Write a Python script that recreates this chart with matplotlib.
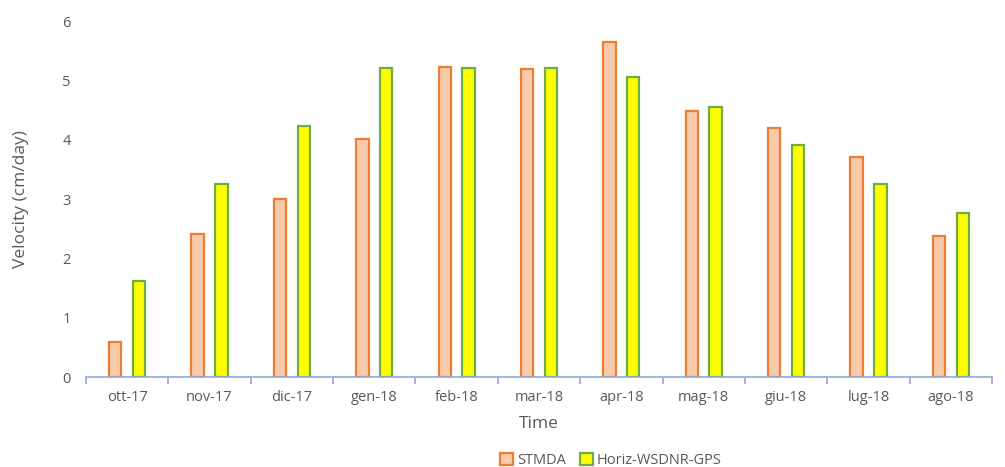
import numpy as np
import matplotlib.pyplot as plt

months = ['ott-17', 'nov-17', 'dic-17', 'gen-18', 'feb-18', 'mar-18',
          'apr-18', 'mag-18', 'giu-18', 'lug-18', 'ago-18']
stmda = [0.60, 2.41, 3.00, 4.01, 5.22, 5.20, 5.65, 4.49, 4.20, 3.71, 2.38]
gps = [1.62, 3.26, 4.23, 5.21, 5.21, 5.21, 5.05, 4.56, 3.91, 3.26, 2.77]

plt.rcParams['font.family'] = ['Open Sans', 'DejaVu Sans']
grey = '#595959'

fig = plt.figure(figsize=(10.05, 4.67), dpi=100)
ax = fig.add_axes([0.0856, 0.192, 0.9014, 0.763])

x = np.arange(len(months))
w = 0.15
ax.bar(x - 0.145, stmda, w, color='#F8CBAD', edgecolor='#ED7D31',
       linewidth=1.6, label='STMDA')
ax.bar(x + 0.145, gps, w, color='#FFFF00', edgecolor='#70AD47',
       linewidth=1.6, label='Horiz-WSDNR-GPS')

ax.set_xlim(-0.5, len(months) - 0.5)
ax.set_ylim(0, 6)
ax.set_yticks(range(7))
ax.set_xticks(x)
ax.set_xticklabels(months)
ax.set_xticks(np.arange(-0.5, len(months), 1.0), minor=True)

for s in ['top', 'right', 'left']:
    ax.spines[s].set_visible(False)
ax.spines['bottom'].set_color('#8EA9DB')
ax.spines['bottom'].set_linewidth(1.2)

ax.tick_params(axis='y', length=0, labelsize=10.5, colors=grey, pad=11)
ax.tick_params(axis='x', which='major', length=0, labelsize=10.5,
               colors=grey, pad=9)
ax.tick_params(axis='x', which='minor', length=5, color='#8EA9DB', width=1.2)

ax.set_xlabel('Time', fontsize=12.5, color=grey, labelpad=8)
ax.set_ylabel('Velocity (cm/day)', fontsize=12.5, color=grey, labelpad=24)

leg = fig.legend(loc='lower center', bbox_to_anchor=(0.608, -0.03), ncol=2,
                 frameon=False, fontsize=10.5, handlelength=0.9,
                 handleheight=0.9, columnspacing=0.9, handletextpad=0.3)
for t in leg.get_texts():
    t.set_color(grey)

fig.savefig('out.png', dpi=100)
